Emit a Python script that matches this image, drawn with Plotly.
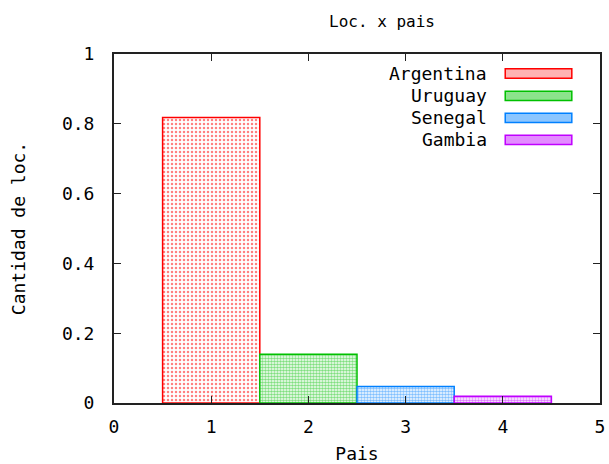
import plotly.graph_objects as go

paises = ["Argentina", "Uruguay", "Senegal", "Gambia"]
posiciones = [1, 2, 3, 4]
valores = [0.818, 0.140, 0.047, 0.019]
colores = ["#ff0000", "#00c000", "#0080ff", "#c000ff"]
tintes = ["rgba(255,0,0,0.30)", "rgba(0,192,0,0.45)", "rgba(0,128,255,0.45)", "rgba(192,0,255,0.45)"]
y_ticks = [0, 0.2, 0.4, 0.6, 0.8, 1]
y_ticktext = ["0", "0.2", "0.4", "0.6", "0.8", "1"]
x_ticks = [0, 1, 2, 3, 4, 5]

FONT = "DejaVu Sans Mono"
FS = 18

fig = go.Figure()
for i, (p, x, v, c) in enumerate(zip(paises, posiciones, valores, colores)):
    pat = dict(shape=".", fgcolor=c, bgcolor="white", size=4, solidity=0.3) if i == 0 else \
          dict(shape=".", fgcolor=c, bgcolor="white", size=3, solidity=0.6)
    fig.add_trace(go.Bar(
        x=[x], y=[v], width=1, name=p,
        marker=dict(color="white", line=dict(color=c, width=1.5), pattern=pat),
        showlegend=False,
    ))

# gnuplot-style key: text right-aligned, swatch on the right
row_y = [0.944, 0.880, 0.817, 0.754]
for p, c, t, yy in zip(paises, colores, tintes, row_y):
    fig.add_annotation(xref="paper", yref="paper", x=0.772, y=yy, text=p,
                       showarrow=False, xanchor="right", yanchor="middle",
                       font=dict(family=FONT, size=FS, color="black"))
    fig.add_shape(type="rect", xref="paper", yref="paper",
                  x0=0.805, x1=0.942, y0=yy - 0.0135, y1=yy + 0.0135,
                  fillcolor=t, line=dict(color=c, width=1.5))

fig.update_layout(
    width=609, height=464,
    margin=dict(l=114, r=9, t=54, b=61),
    paper_bgcolor="white", plot_bgcolor="white",
    barmode="overlay",
    font=dict(family=FONT, size=FS, color="black"),
    title=dict(text="Loc. x pais", x=382/609, xanchor="center", y=1 - 21/464, yanchor="middle",
               font=dict(family=FONT, size=16, color="black")),
)
fig.update_xaxes(
    range=[0, 5], tickvals=x_ticks, ticks="inside", ticklen=7, tickcolor="#222",
    showline=True, linecolor="#222", linewidth=2, mirror="ticks",
    showgrid=False, zeroline=False, automargin=False,
    tickfont=dict(family=FONT, size=FS), ticklabelstandoff=6,
    title=dict(text="Pais", font=dict(family=FONT, size=FS), standoff=20),
)
fig.update_yaxes(
    range=[0, 1], tickvals=y_ticks, ticktext=y_ticktext, ticks="inside", ticklen=7, tickcolor="#222",
    showline=True, linecolor="#222", linewidth=2, mirror="ticks",
    showgrid=False, zeroline=False, automargin=False,
    tickfont=dict(family=FONT, size=FS), ticklabelstandoff=14,
    title=dict(text="Cantidad de loc.", font=dict(family=FONT, size=FS), standoff=32),
)

fig.write_html("out.html")
